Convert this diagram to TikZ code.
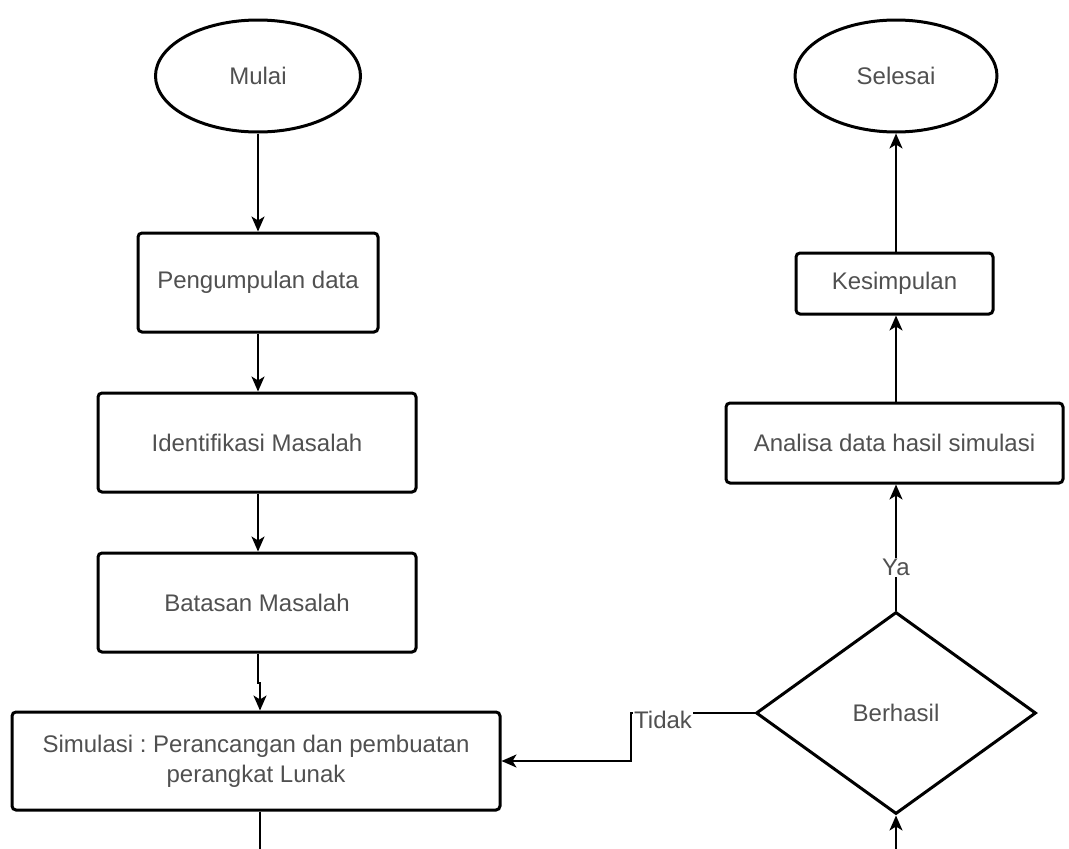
\documentclass[tikz,border=0pt]{standalone}
\usepackage{fontspec}
\setmainfont{Liberation Sans}
\frenchspacing
\usetikzlibrary{shapes.geometric,arrows.meta}
\definecolor{txtgray}{RGB}{80,80,80}
\tikzset{
  base/.style={draw=black, line width=3pt, inner sep=0pt, text=txtgray,
    font=\fontsize{24}{30}\selectfont, align=center},
  term/.style={base, ellipse},
  proc/.style={base, rectangle, rounded corners=4pt},
  decis/.style={base, diamond},
  conn/.style={draw=black, line width=2pt},
  arr/.style={conn, -{Stealth[length=15pt,width=13pt,inset=4pt]}},
  lbl/.style={text=txtgray, font=\fontsize{24}{30}\selectfont, fill=white, inner sep=1pt}
}
\begin{document}
\begin{tikzpicture}[x=1pt,y=-1pt]
\useasboundingbox (0,0) rectangle (1069,849);
% left column
\node[term, minimum width=205pt, minimum height=112pt] (mulai) at (258,76) {Mulai};
\node[proc, minimum width=240pt, minimum height=99pt] (peng) at (258,282.5) {Pengumpulan data};
\node[proc, minimum width=318pt, minimum height=99pt] (ident) at (257,442.5) {Identifikasi Masalah};
\node[proc, minimum width=318pt, minimum height=99pt] (batas) at (257,602.5) {Batasan Masalah};
\node[proc, minimum width=488pt, minimum height=98pt] (sim) at (256,761) {Simulasi : Perancangan dan pembuatan\\perangkat Lunak};
% right column
\node[term, minimum width=202pt, minimum height=112pt] (selesai) at (896,76) {Selesai};
\node[proc, minimum width=197pt, minimum height=61pt] (kesim) at (894.5,283.5) {Kesimpulan};
\node[proc, minimum width=337pt, minimum height=80pt] (anal) at (894.5,443) {Analisa data hasil simulasi};
\node[decis, minimum width=280pt, minimum height=202pt] (berh) at (896,713) {Berhasil};
% helper coordinates
\coordinate (jogA) at (258,683);
\coordinate (jogB) at (260,683);
\coordinate (simout) at (260,849);
\coordinate (din) at (896,849);
\coordinate (tA) at (631,713);
\coordinate (tB) at (631,761);
% connectors
\draw[arr] (mulai.south) -- (mulai.south |- peng.north);
\draw[arr] (peng.south) -- (peng.south |- ident.north);
\draw[arr] (ident.south -| peng.south) -- (peng.south |- batas.north);
\draw[arr] (batas.south -| jogA) -- (jogA) -- (jogB) -- (jogB |- sim.north);
\draw[conn] (simout |- sim.south) -- (simout);
\draw[arr] (din) -- (berh.south);
\draw[arr] (berh.north) -- node[lbl, pos=0.34] {Ya} (berh.north |- anal.south);
\draw[arr] (berh.north |- anal.north) -- (berh.north |- kesim.south);
\draw[arr] (berh.north |- kesim.north) -- (selesai.south);
\draw[arr] (berh.west) -- (tA) -- (tB) -- (sim.east |- tB);
\node[lbl, anchor=west] (tidak) at (633,720) {Tidak};
\end{tikzpicture}
\end{document}
